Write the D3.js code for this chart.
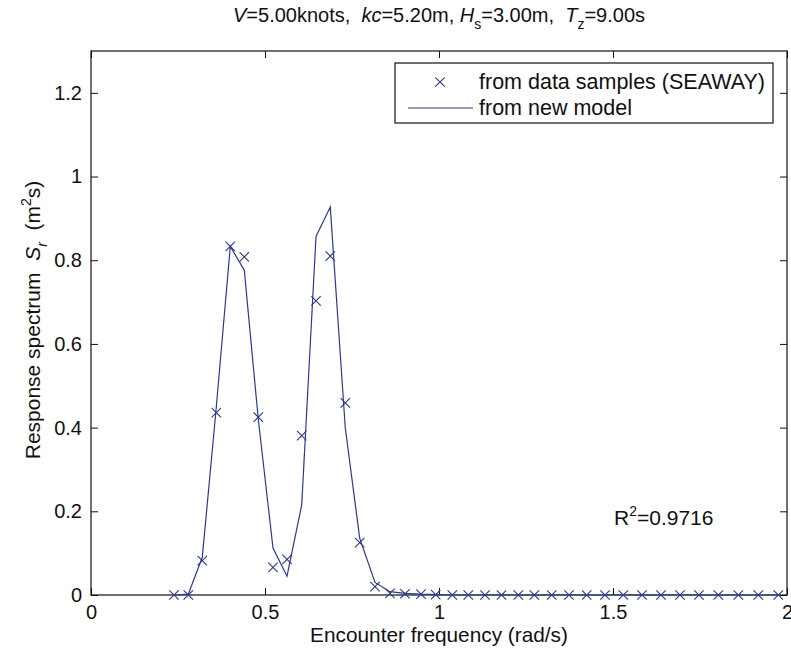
<!DOCTYPE html>
<html>
<head>
<meta charset="utf-8">
<script src="https://cdn.jsdelivr.net/npm/d3@7"></script>
<style>
  body { margin: 0; background: #fff; }
  svg text { font-family: "Liberation Sans", Arial, Helvetica, sans-serif; fill: #111; white-space: pre; }
</style>
</head>
<body>
<svg id="chart" width="791" height="653"></svg>
<script>
// encounter frequencies (rad/s)
const freq = [0.2385, 0.2796, 0.3198, 0.3601, 0.4003, 0.4405, 0.4807, 0.5230, 0.5632, 0.6055,
    0.6466, 0.6876, 0.7307, 0.7721, 0.8161, 0.8592, 0.9023, 0.9483, 0.9905, 1.0382,
    1.0842, 1.1322, 1.1796, 1.2279, 1.2739, 1.3239, 1.3736, 1.4244, 1.4770, 1.5296,
    1.5833, 1.6379, 1.6925, 1.7471, 1.8026, 1.8601, 1.9175, 1.9750];

// response spectrum from data samples (SEAWAY)
const sampleS = [0, 0, 0.082, 0.436, 0.833, 0.808, 0.425, 0.066, 0.085, 0.381,
    0.703, 0.810, 0.459, 0.125, 0.020, 0.004, 0.003, 0.002, 0.001, 0,
    0, 0, 0, 0, 0, 0, 0, 0, 0, 0,
    0, 0, 0, 0, 0, 0, 0, 0];

// response spectrum from new model
const modelS = [0, 0.002, 0.09, 0.45, 0.833, 0.776, 0.42, 0.112, 0.045, 0.215,
    0.857, 0.927, 0.399, 0.136, 0.03, 0.008, 0.004, 0.002, 0.001, 0,
    0, 0, 0, 0, 0, 0, 0, 0, 0, 0,
    0, 0, 0, 0, 0, 0, 0, 0];

const xTicks = [0, 0.5, 1, 1.5, 2];
const yTicks = [0, 0.2, 0.4, 0.6, 0.8, 1, 1.2];
const legendLabels = ['from data samples (SEAWAY)', 'from new model'];
const rSquared = '0.9716';

const blue = '#2b3896';

const svg = d3.select('#chart');
const margin = { top: 51, right: 4, bottom: 58, left: 91 };
const width = 791 - margin.left - margin.right;
const height = 653 - margin.top - margin.bottom;

const g = svg.append('g')
    .attr('transform', `translate(${margin.left},${margin.top})`);

const x = d3.scaleLinear().domain([0, 2]).range([0, width]);
const y = d3.scaleLinear().domain([0, 1.3]).range([height, 0]);

// frame
g.append('rect')
    .attr('width', width)
    .attr('height', height)
    .attr('fill', 'none')
    .attr('stroke', '#111')
    .attr('stroke-width', 1.2);

const fmt = d => d3.format('')(d);

// axes with inward ticks, mirrored on top/right
const styleAxis = sel => {
    sel.select('.domain').remove();
    sel.selectAll('line').attr('stroke', '#111');
    sel.selectAll('text').style('font-size', '20px');
};

g.append('g')
    .attr('transform', `translate(0,${height})`)
    .call(d3.axisBottom(x).tickValues(xTicks).tickFormat(fmt).tickSizeInner(-7).tickPadding(10))
    .call(styleAxis);

g.append('g')
    .call(d3.axisTop(x).tickValues(xTicks).tickSizeInner(-7).tickFormat(''))
    .call(styleAxis);

g.append('g')
    .call(d3.axisLeft(y).tickValues(yTicks).tickFormat(fmt).tickSizeInner(-7).tickPadding(9))
    .call(styleAxis);

g.append('g')
    .attr('transform', `translate(${width},0)`)
    .call(d3.axisRight(y).tickValues(yTicks).tickSizeInner(-7).tickFormat(''))
    .call(styleAxis);

// model line
const data = freq.map((f, i) => ({ f, s: sampleS[i], m: modelS[i] }));

g.append('path')
    .datum(data)
    .attr('fill', 'none')
    .attr('stroke', blue)
    .attr('stroke-width', 1.2)
    .attr('d', d3.line().x(d => x(d.f)).y(d => y(d.m)));

// sample crosses
const cross = d3.symbol().type(d3.symbolX).size(60);
g.selectAll('.sample')
    .data(data)
    .enter()
    .append('path')
    .attr('class', 'sample')
    .attr('transform', d => `translate(${x(d.f)},${y(d.s)})`)
    .attr('d', cross)
    .attr('fill', 'none')
    .attr('stroke', blue)
    .attr('stroke-width', 1.1);

// legend
const legend = svg.append('g').attr('transform', 'translate(395,63)');
legend.append('rect')
    .attr('width', 378)
    .attr('height', 60)
    .attr('fill', '#fff')
    .attr('stroke', '#111')
    .attr('stroke-width', 1.2);
legend.append('path')
    .attr('transform', 'translate(45,19)')
    .attr('d', cross)
    .attr('fill', 'none')
    .attr('stroke', blue)
    .attr('stroke-width', 1.1);
legend.append('line')
    .attr('x1', 13).attr('x2', 78)
    .attr('y1', 45).attr('y2', 45)
    .attr('stroke', blue)
    .attr('stroke-width', 1.2);
legend.selectAll('.leg-text')
    .data(legendLabels)
    .enter()
    .append('text')
    .attr('x', 84)
    .attr('y', (d, i) => 26 + i * 26)
    .style('font-size', '21.5px')
    .text(d => d);

// R^2 annotation
const r2 = svg.append('text')
    .attr('x', 614)
    .attr('y', 525)
    .style('font-size', '21px');
r2.append('tspan').text('R');
r2.append('tspan').attr('dy', -9).style('font-size', '14px').text('2');
r2.append('tspan').attr('dy', 9).text('=' + rSquared);

// title
const title = svg.append('text')
    .attr('x', 439)
    .attr('y', 22)
    .attr('text-anchor', 'middle')
    .style('font-size', '20px');
title.append('tspan').style('font-style', 'italic').text('V');
title.append('tspan').text('=5.00knots,  ');
title.append('tspan').style('font-style', 'italic').text('kc');
title.append('tspan').text('=5.20m, ');
title.append('tspan').style('font-style', 'italic').text('H');
title.append('tspan').attr('dy', 7).style('font-size', '14px').text('s');
title.append('tspan').attr('dy', -7).text('=3.00m,  ');
title.append('tspan').style('font-style', 'italic').text('T');
title.append('tspan').attr('dy', 7).style('font-size', '14px').text('z');
title.append('tspan').attr('dy', -7).text('=9.00s');

// x label
svg.append('text')
    .attr('x', margin.left + width / 2)
    .attr('y', 642)
    .attr('text-anchor', 'middle')
    .style('font-size', '20.8px')
    .text('Encounter frequency (rad/s)');

// y label
const yl = svg.append('text')
    .attr('transform', `translate(40,${margin.top + height / 2 - 3}) rotate(-90)`)
    .attr('text-anchor', 'middle')
    .style('font-size', '21px');
yl.append('tspan').text('Response spectrum  ');
yl.append('tspan').style('font-style', 'italic').text('S');
yl.append('tspan').attr('dy', 7).style('font-size', '14px').style('font-style', 'italic').text('r');
yl.append('tspan').attr('dy', -7).text('  (m');
yl.append('tspan').attr('dy', -9).style('font-size', '14px').text('2');
yl.append('tspan').attr('dy', 9).text('s)');
</script>
</body>
</html>
